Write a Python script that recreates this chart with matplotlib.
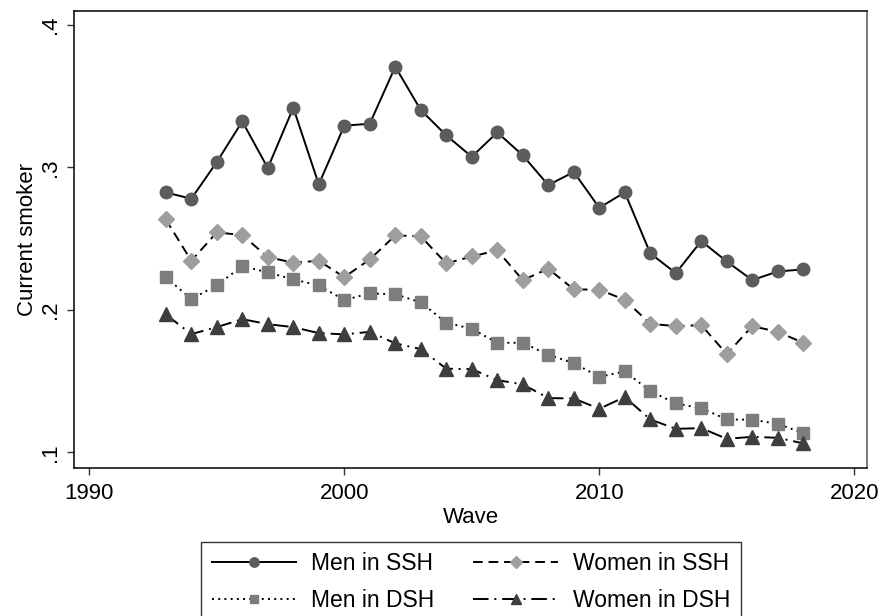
import numpy as np
import matplotlib.pyplot as plt

plt.rcParams['font.family'] = ['Liberation Sans', 'DejaVu Sans']

# Survey waves and smoking shares
waves = np.arange(1993, 2019)

men_ssh = [0.2825, 0.278, 0.3038, 0.3323, 0.2996, 0.3419, 0.2881, 0.3293, 0.3307,
           0.3707, 0.3403, 0.3225, 0.3075, 0.3246, 0.3085, 0.2876, 0.2968, 0.2717,
           0.2825, 0.2397, 0.2258, 0.2483, 0.234, 0.2209, 0.227, 0.2284]
women_ssh = [0.2635, 0.2345, 0.2544, 0.2525, 0.2371, 0.2331, 0.2345, 0.223, 0.2354,
             0.2523, 0.2516, 0.2326, 0.2375, 0.2418, 0.2209, 0.2289, 0.2144, 0.2142,
             0.2071, 0.1902, 0.1886, 0.1893, 0.169, 0.1886, 0.1846, 0.1769]
men_dsh = [0.223, 0.2076, 0.2172, 0.2308, 0.2263, 0.2214, 0.2172, 0.2069, 0.2116,
           0.2109, 0.2053, 0.191, 0.1867, 0.1769, 0.1769, 0.1685, 0.1626, 0.153,
           0.1568, 0.143, 0.1343, 0.131, 0.1231, 0.1229, 0.12, 0.1135]
women_dsh = [0.1968, 0.183, 0.1879, 0.1935, 0.19, 0.1879, 0.1837, 0.1828, 0.1846,
             0.1765, 0.1725, 0.1587, 0.1584, 0.1507, 0.1477, 0.1381, 0.1378, 0.1306,
             0.1388, 0.1231, 0.1165, 0.117, 0.1095, 0.1109, 0.1102, 0.1063]

labels = ['Men in SSH', 'Women in SSH', 'Men in DSH', 'Women in DSH']
xticks = [1990, 2000, 2010, 2020]
yticks = [0.1, 0.2, 0.3, 0.4]
ytick_labels = ['.1', '.2', '.3', '.4']

fig = plt.figure(figsize=(8.83, 6.16), dpi=100)
ax = fig.add_axes([0.0838, 0.2407, 0.8981, 0.7414])

lw = 1.4
h1, = ax.plot(waves, men_ssh, color='black', lw=lw, linestyle='-',
              marker='o', ms=9, mfc='#5c5c5c', mec='#5c5c5c', label=labels[0])
h2, = ax.plot(waves, women_ssh, color='black', lw=lw, linestyle=(0, (5, 3)),
              marker='D', ms=8.5, mfc='#9e9e9e', mec='#9e9e9e', label=labels[1])
h3, = ax.plot(waves, men_dsh, color='black', lw=lw, linestyle=(0, (1, 2.2)),
              marker='s', ms=8, mfc='#7d7d7d', mec='#7d7d7d', label=labels[2])
h4, = ax.plot(waves, women_dsh, color='black', lw=lw, linestyle=(0, (8, 3, 1, 3)),
              marker='^', ms=9.5, mfc='#3e3e3e', mec='#3e3e3e', label=labels[3])

ax.set_xlim(1989.4, 2020.5)
ax.set_ylim(0.0892, 0.4098)
ax.set_xticks(xticks)
ax.set_yticks(yticks)
ax.set_yticklabels(ytick_labels, rotation=90, va='center')
ax.tick_params(labelsize=16, length=5, width=1, color='#333333', pad=4)
ax.tick_params(axis='x', pad=6)
ax.set_xlabel('Wave', fontsize=16, labelpad=2)
ax.set_ylabel('Current smoker', fontsize=16, labelpad=2)
for s in ax.spines.values():
    s.set_linewidth(1.1)
ax.spines['right'].set_color('#555555')

# legend filled row by row: matplotlib fills columns, so reorder
leg = fig.legend([h1, h3, h2, h4], [labels[0], labels[2], labels[1], labels[3]],
                 loc='upper center', ncol=2,
                 bbox_to_anchor=(471 / 883, 1 - 542 / 616),
                 fontsize=16.5, handlelength=3.7, handletextpad=0.65,
                 columnspacing=1.7, labelspacing=0.6, markerscale=0.75,
                 fancybox=False, edgecolor='black', borderpad=0.45,
                 borderaxespad=0)
leg.get_frame().set_linewidth(1.0)

fig.savefig('out.png', dpi=100)
